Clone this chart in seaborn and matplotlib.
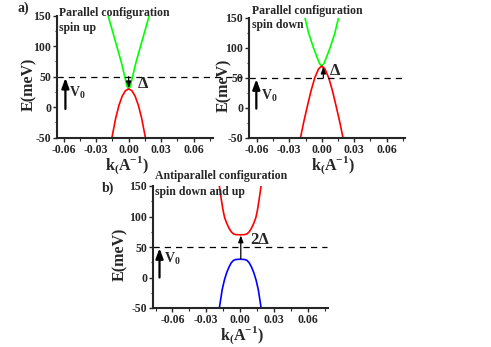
import numpy as np
import pandas as pd
import matplotlib
matplotlib.use("Agg")
import matplotlib.pyplot as plt
from matplotlib.ticker import MultipleLocator, FormatStrFormatter
import seaborn as sns

# ---------------- data ----------------
# panel a-left: parallel, spin up
k_a1_cond = [-0.019, -0.015, -0.011, -0.007, -0.0036, -0.0015, 0.0, 0.0015, 0.0036, 0.007, 0.011, 0.015, 0.019]
E_a1_cond = [150, 125, 100, 75, 50, 34, 30, 34, 50, 75, 100, 125, 150]
k_a1_val = [-0.0155, -0.012, -0.009, -0.006, -0.003, 0.0, 0.003, 0.006, 0.009, 0.012, 0.0155]
E_a1_val = [-50, -18, 3, 18, 27, 30, 27, 18, 3, -18, -50]

# panel a-right: parallel, spin down
k_a2_cond = [-0.0155, -0.012, -0.0076, -0.004, -0.002, 0.0, 0.002, 0.004, 0.0076, 0.012, 0.0155]
E_a2_cond = [150, 124, 100, 83, 74, 70, 74, 83, 100, 124, 150]
k_a2_val = [-0.0197, -0.0165, -0.0137, -0.010, -0.0065, -0.003, 0.0, 0.003, 0.0065, 0.010, 0.0137, 0.0165, 0.0197]
E_a2_val = [-50, -22, 0, 28, 50, 65, 70, 65, 50, 28, 0, -22, -50]

# panel b: antiparallel, spin down and up
k_b_cond = [-0.0185, -0.0165, -0.0152, -0.0138, -0.012, -0.010, -0.008, -0.006, -0.004, 0.0,
            0.004, 0.006, 0.008, 0.010, 0.012, 0.0138, 0.0152, 0.0165, 0.0185]
E_b_cond = [150, 125, 110, 98, 89, 81, 75, 71.5, 70.3, 70,
            70.3, 71.5, 75, 81, 89, 98, 110, 125, 150]
k_b_val = [-0.0185, -0.016, -0.014, -0.012, -0.010, -0.008, -0.006, -0.004, 0.0,
           0.004, 0.006, 0.008, 0.010, 0.012, 0.014, 0.016, 0.0185]
E_b_val = [-50, -20, -4, 8, 17, 24, 28, 29.5, 30,
           29.5, 28, 24, 17, 8, -4, -20, -50]

V0 = 50
x_ticks = [-0.06, -0.03, 0.00, 0.03, 0.06]
y_ticks = [-50, 0, 50, 100, 150]

# ---------------- style ----------------
sns.set_style("ticks")
plt.rcParams['font.family'] = ['Liberation Serif', 'DejaVu Serif']
plt.rcParams['font.weight'] = 'bold'
plt.rcParams['axes.unicode_minus'] = False
plt.rcParams['mathtext.fontset'] = 'custom'
plt.rcParams['mathtext.rm'] = 'Liberation Serif:bold'
plt.rcParams['mathtext.bf'] = 'Liberation Serif:bold'

W, H = 491, 347
fig = plt.figure(figsize=(W / 100, H / 100), dpi=100)


def px_axes(l, r, t, b):
    return fig.add_axes([l / W, 1 - b / H, (r - l) / W, (b - t) / H])


ax1 = px_axes(57.3, 213, 15.7, 137.7)
ax2 = px_axes(249.3, 405, 18, 138)
ax3 = px_axes(153.3, 328.3, 186, 308)

GREEN = (0.0, 1.0, 0.0)
RED = (1.0, 0.0, 0.0)
BLUE = (0.0, 0.0, 1.0)
LW = 1.2


def curve(ax, k, E, color):
    df = pd.DataFrame({"k": k, "E": E})
    sns.lineplot(data=df, x="k", y="E", ax=ax, color=color, lw=LW,
                 estimator=None, sort=True, legend=False)


curve(ax1, k_a1_cond, E_a1_cond, GREEN)
curve(ax1, k_a1_val, E_a1_val, RED)
curve(ax2, k_a2_cond, E_a2_cond, GREEN)
curve(ax2, k_a2_val, E_a2_val, RED)
curve(ax3, k_b_cond, E_b_cond, RED)
curve(ax3, k_b_val, E_b_val, BLUE)

xlims = [(-0.066, 0.078), (-0.067, 0.077), (-0.077, 0.078)]
ylab_x = [-0.178, -0.16, -0.19]
xlab_pos = [(0.446, -0.228), (0.537, -0.23), (0.507, -0.226)]

for ax, xl, yx, xp in zip([ax1, ax2, ax3], xlims, ylab_x, xlab_pos):
    ax.set_xlim(*xl)
    ax.set_ylim(-50, 150)
    ax.set_xticks(x_ticks)
    ax.set_yticks(y_ticks)
    ax.xaxis.set_major_formatter(FormatStrFormatter('%.2f'))
    ax.xaxis.set_minor_locator(MultipleLocator(0.015))
    ax.yaxis.set_minor_locator(MultipleLocator(25))
    ax.tick_params(which='major', direction='out', length=3, width=1,
                   labelsize=8.5, pad=1.5)
    ax.tick_params(which='minor', direction='out', length=1.8, width=0.8)
    for lab in ax.get_xticklabels() + ax.get_yticklabels():
        lab.set_fontweight('bold')
    sns.despine(ax=ax)
    for s in ['left', 'bottom']:
        ax.spines[s].set_linewidth(1.5)
    ax.set_ylabel('E(meV)', fontsize=11.5, fontweight='bold', va='center')
    ax.yaxis.set_label_coords(yx, 0.44)
    ax.set_xlabel(r'$\mathbf{k}_{\mathbf{(}}\mathbf{A}^{\mathbf{-1}}\mathbf{)}$',
                  fontsize=11.5, va='center')
    ax.xaxis.set_label_coords(*xp)

# dashed V0 line
ax1.plot([-0.066, 0.105], [V0, V0], ls=(0, (5, 4)), color='black', lw=0.9, clip_on=False)
ax2.axhline(V0, ls=(0, (5, 4)), color='black', lw=0.9)
ax3.plot([-0.077, 0.0765], [V0, V0], ls=(0, (5, 4)), color='black', lw=0.9)

arrow_big = dict(arrowstyle='-|>,head_length=0.6,head_width=0.22', color='black', lw=1.6,
                 shrinkA=0, shrinkB=0)
arrow_small = dict(arrowstyle='-|>,head_length=0.4,head_width=0.15', color='black', lw=0.9,
                   shrinkA=0, shrinkB=0)

# V0 arrows + labels
ax1.annotate('', xy=(-0.0585, 48), xytext=(-0.0585, -3), arrowprops=arrow_big)
ax1.text(-0.055, 24, r'V$_0$', fontsize=10, fontweight='bold', va='center')
ax2.annotate('', xy=(-0.0605, 48), xytext=(-0.0605, -1), arrowprops=arrow_big)
ax2.text(-0.056, 20, r'V$_0$', fontsize=10, fontweight='bold', va='center')
ax3.annotate('', xy=(-0.0715, 48), xytext=(-0.0715, 0), arrowprops=arrow_big)
ax3.text(-0.0675, 30, r'V$_0$', fontsize=10, fontweight='bold', va='center')

# Delta arrows
ax1.annotate('', xy=(0.0, 31), xytext=(0.0, 50), arrowprops=arrow_small)
ax1.text(0.0085, 38, 'Δ', fontsize=12, fontweight='bold', va='center')
ax2.annotate('', xy=(0.0015, 69), xytext=(0.0015, 50), arrowprops=arrow_small)
ax2.text(0.0075, 61, 'Δ', fontsize=12, fontweight='bold', va='center')
ax3.annotate('', xy=(0.0005, 69), xytext=(0.0005, 31), arrowprops=arrow_small)
ax3.text(0.009, 62, '2Δ', fontsize=12, fontweight='bold', va='center')

# panel titles
tfs = 8.5
ax1.text(0.013, 1.025, 'Parallel configuration', transform=ax1.transAxes,
         fontsize=tfs, fontweight='bold', va='center', ha='left')
ax1.text(0.013, 0.899, 'spin up', transform=ax1.transAxes,
         fontsize=tfs, fontweight='bold', va='center', ha='left')
ax2.text(0.015, 1.061, 'Parallel configuration', transform=ax2.transAxes,
         fontsize=tfs, fontweight='bold', va='center', ha='left')
ax2.text(0.015, 0.942, 'spin down', transform=ax2.transAxes,
         fontsize=tfs, fontweight='bold', va='center', ha='left')
ax3.text(0.01, 1.082, 'Antiparallel configuration', transform=ax3.transAxes,
         fontsize=tfs, fontweight='bold', va='center', ha='left')
ax3.text(0.01, 0.951, 'spin down and up', transform=ax3.transAxes,
         fontsize=tfs, fontweight='bold', va='center', ha='left')

fig.text(23 / W, 1 - 8 / H, 'a)', fontsize=10, fontweight='bold', ha='center', va='center')
fig.text(107.5 / W, 1 - 188 / H, 'b)', fontsize=10, fontweight='bold', ha='center', va='center')

fig.savefig('out.png', dpi=100)
